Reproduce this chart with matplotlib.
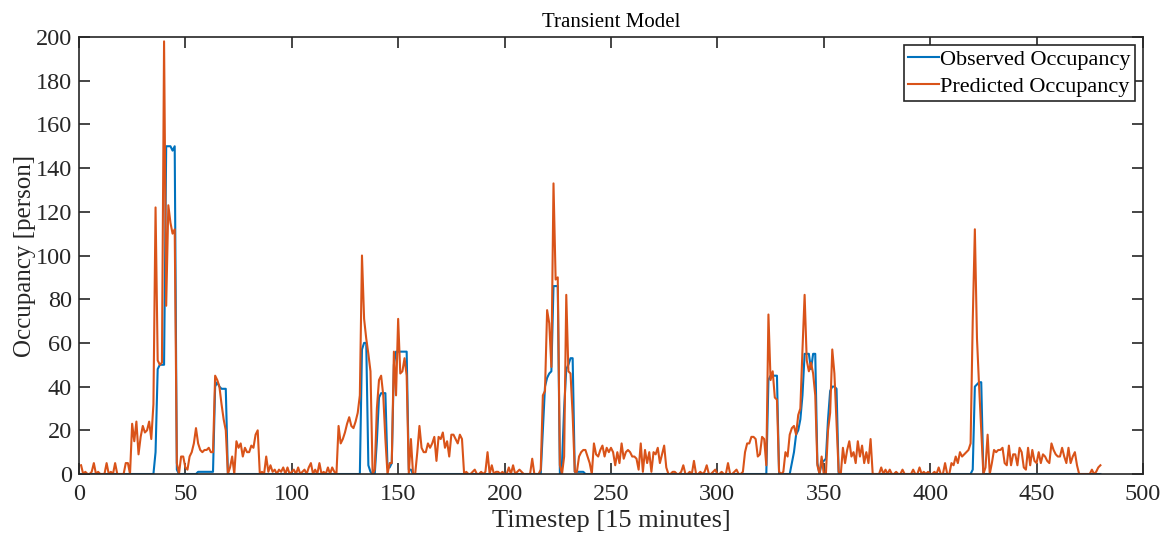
import numpy as np
import matplotlib
matplotlib.use("Agg")
import matplotlib.pyplot as plt

# Occupancy per 15-minute timestep
observed = [
    0, 0, 0, 0, 0, 0, 0, 0, 0, 0,
    0, 0, 0, 0, 0, 0, 0, 0, 0, 0,
    0, 0, 0, 0, 0, 0, 0, 0, 0, 0,
    0, 0, 0, 0, 0, 10, 48, 50, 50, 50,
    150, 150, 150, 148, 150, 2, 0, 0, 0, 0,
    0, 0, 0, 0, 0, 1, 1, 1, 1, 1,
    1, 1, 1, 40, 42, 40, 39, 39, 39, 0,
    0, 0, 0, 0, 0, 0, 0, 0, 0, 0,
    0, 0, 0, 0, 0, 0, 0, 0, 0, 0,
    0, 0, 0, 0, 0, 0, 0, 0, 0, 0,
    0, 0, 0, 0, 0, 0, 0, 0, 0, 0,
    0, 0, 0, 0, 0, 0, 0, 0, 0, 0,
    0, 0, 0, 0, 0, 0, 0, 0, 0, 0,
    0, 0, 57, 60, 60, 4, 1, 0, 0, 15,
    35, 37, 37, 37, 3, 3, 5, 50, 56, 56,
    56, 56, 56, 56, 2, 2, 0, 0, 0, 0,
    0, 0, 0, 0, 0, 0, 0, 0, 0, 0,
    0, 0, 0, 0, 0, 0, 0, 0, 0, 0,
    0, 0, 0, 0, 0, 0, 0, 0, 0, 0,
    0, 0, 0, 0, 0, 0, 0, 0, 0, 0,
    0, 0, 0, 0, 0, 0, 0, 0, 0, 0,
    0, 0, 0, 0, 0, 0, 0, 20, 40, 44,
    46, 47, 86, 86, 86, 0, 5, 30, 48, 50,
    53, 53, 1, 1, 1, 1, 1, 0, 0, 0,
    0, 0, 0, 0, 0, 0, 0, 0, 0, 0,
    0, 0, 0, 0, 0, 0, 0, 0, 0, 0,
    0, 0, 0, 0, 0, 0, 0, 0, 0, 0,
    0, 0, 0, 0, 0, 0, 0, 0, 0, 0,
    0, 0, 0, 0, 0, 0, 0, 0, 0, 0,
    0, 0, 0, 0, 0, 0, 0, 0, 0, 0,
    0, 0, 0, 0, 0, 0, 0, 0, 0, 0,
    0, 0, 0, 0, 0, 0, 0, 0, 0, 0,
    0, 0, 0, 43, 45, 45, 45, 45, 0, 0,
    0, 0, 0, 0, 5, 10, 18, 20, 25, 36,
    55, 55, 55, 48, 55, 55, 5, 0, 5, 6,
    7, 25, 38, 40, 40, 39, 0, 0, 0, 0,
    0, 0, 0, 0, 0, 0, 0, 0, 0, 0,
    0, 0, 0, 0, 0, 0, 0, 0, 0, 0,
    0, 0, 0, 0, 0, 0, 0, 0, 0, 0,
    0, 0, 0, 0, 0, 0, 0, 0, 0, 0,
    0, 0, 0, 0, 0, 0, 0, 0, 0, 0,
    0, 0, 0, 0, 0, 0, 0, 0, 0, 2,
    40, 41, 42, 42, 0, 0, 0, 0, 0, 0,
    0, 0, 0, 0, 0, 0, 0, 0, 0, 0,
    0, 0, 0, 0, 0, 0, 0, 0, 0, 0,
    0, 0, 0, 0, 0, 0, 0, 0, 0, 0,
    0, 0, 0, 0, 0, 0, 0, 0, 0, 0,
    0, 0, 0, 0, 0, 0, 0, 0, 0, 0,
]

predicted = [
    4, 0, 1, 0, 0, 1, 5, 0, 1, 0,
    0, 0, 5, 0, 1, 0, 5, 0, 0, 0,
    0, 5, 5, 0, 23, 15, 24, 9, 17, 22,
    19, 20, 24, 16, 32, 122, 52, 50, 51, 198,
    77, 123, 115, 110, 112, 5, 0, 8, 8, 3,
    2, 8, 10, 14, 21, 14, 11, 10, 11, 11,
    12, 10, 10, 45, 43, 40, 32, 25, 20, 0,
    3, 8, 0, 15, 12, 14, 8, 12, 10, 10,
    13, 12, 18, 20, 0, 1, 0, 8, 1, 4,
    1, 2, 0, 2, 1, 3, 0, 3, 0, 1,
    2, 0, 3, 0, 1, 2, 0, 3, 5, 0,
    2, 0, 5, 0, 1, 0, 3, 0, 3, 1,
    0, 22, 14, 16, 19, 23, 26, 22, 21, 24,
    28, 36, 100, 71, 62, 55, 47, 0, 2, 30,
    43, 45, 36, 16, 0, 5, 5, 56, 36, 71,
    46, 47, 53, 45, 0, 16, 0, 0, 10, 22,
    12, 10, 10, 14, 12, 14, 17, 6, 17, 16,
    19, 12, 15, 8, 18, 18, 16, 14, 18, 16,
    0, 1, 0, 0, 1, 2, 0, 0, 1, 0,
    1, 10, 0, 4, 0, 1, 1, 0, 1, 0,
    0, 3, 0, 4, 0, 1, 2, 1, 0, 0,
    0, 0, 7, 0, 0, 0, 2, 36, 38, 75,
    69, 49, 133, 89, 90, 4, 0, 8, 82, 47,
    46, 27, 1, 1, 8, 10, 11, 11, 8, 5,
    0, 14, 9, 8, 11, 13, 8, 12, 10, 12,
    10, 4, 10, 5, 14, 7, 10, 11, 10, 8,
    8, 7, 2, 14, 1, 11, 5, 10, 1, 10,
    9, 12, 5, 9, 13, 3, 0, 0, 1, 1,
    0, 0, 1, 4, 0, 0, 1, 0, 6, 0,
    0, 1, 0, 1, 4, 0, 0, 1, 2, 0,
    0, 1, 0, 0, 5, 0, 0, 1, 2, 0,
    0, 1, 10, 14, 14, 17, 17, 16, 8, 9,
    17, 16, 4, 73, 43, 47, 35, 34, 1, 0,
    1, 10, 8, 18, 21, 22, 18, 27, 30, 57,
    82, 52, 47, 51, 46, 36, 4, 0, 8, 0,
    0, 20, 28, 57, 46, 23, 1, 0, 12, 5,
    11, 15, 8, 10, 5, 15, 8, 13, 5, 10,
    5, 16, 0, 0, 0, 0, 3, 0, 2, 0,
    2, 0, 0, 1, 0, 0, 2, 0, 0, 0,
    0, 2, 0, 0, 3, 0, 1, 0, 1, 0,
    0, 1, 0, 3, 0, 0, 5, 0, 0, 5,
    4, 8, 5, 10, 8, 9, 10, 11, 14, 70,
    112, 62, 40, 20, 0, 3, 18, 0, 5, 11,
    10, 11, 11, 12, 5, 4, 13, 4, 9, 9,
    4, 12, 10, 3, 2, 12, 4, 11, 6, 5,
    10, 5, 9, 8, 6, 5, 14, 11, 9, 8,
    8, 12, 8, 5, 12, 5, 8, 10, 4, 0,
    0, 0, 0, 0, 0, 2, 0, 1, 3, 4,
]

x_ticks = list(range(0, 501, 50))
y_ticks = list(range(0, 201, 20))

plt.rcParams['font.family'] = ['Liberation Serif', 'DejaVu Serif']
plt.rcParams['font.size'] = 17.5

timestep = np.arange(1, len(observed) + 1)

fig = plt.figure(figsize=(11.73, 5.4), dpi=100)
ax = fig.add_axes([0.0673, 0.1222, 0.9071, 0.8093])

ax.plot(timestep, observed, color='#0072BD', linewidth=1.5, label='Observed Occupancy')
ax.plot(timestep, predicted, color='#D95319', linewidth=1.5, label='Predicted Occupancy')

ax.set_xlim(0, 500)
ax.set_ylim(0, 200)
ax.set_xticks(x_ticks)
ax.set_yticks(y_ticks)

# boxed axes with inward ticks on every side
ax.tick_params(direction='in', length=8, width=1.2, top=True, right=True,
               colors='#262626', labelcolor='#262626', pad=5)
ax.tick_params(axis='x', pad=7)
for side in ax.spines.values():
    side.set_linewidth(1.2)
    side.set_color('#262626')

ax.set_xlabel('Timestep [15 minutes]', color='#262626', fontsize=19, labelpad=4)
ax.set_ylabel('Occupancy [person]', color='#262626', fontsize=18, labelpad=0)
ax.set_title('Transient Model', color='#000000', fontsize=15, pad=7)

leg = ax.legend(loc='upper right', fancybox=False, framealpha=1, edgecolor='#262626',
                fontsize=16, handlelength=1.4, handletextpad=0.05, borderpad=0.2,
                labelspacing=0.3, borderaxespad=0.35)
leg.get_frame().set_linewidth(1.2)

fig.savefig('out.png', dpi=100)
